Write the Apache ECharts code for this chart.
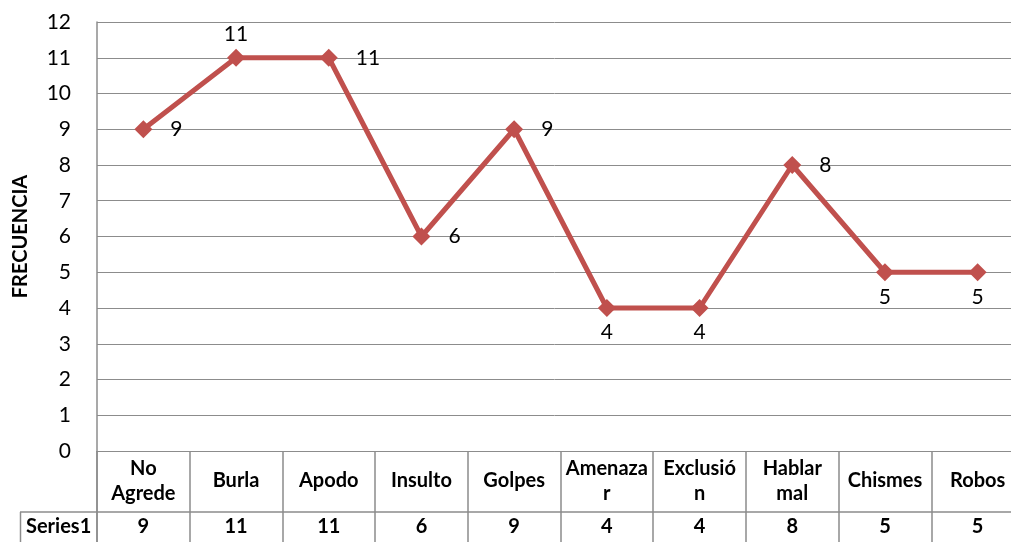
<!DOCTYPE html>
<html><head><meta charset="utf-8">
<script src="https://cdn.jsdelivr.net/npm/echarts@6/dist/echarts.min.js"></script>
<style>html,body{margin:0;padding:0;background:#fff}#c{width:1011px;height:542px}</style>
</head><body><div id="c"></div>
<script>
var categories = ['No Agrede','Burla','Apodo','Insulto','Golpes','Amenazar','Exclusión','Hablar mal','Chismes','Robos'];
var tickLabels = ['No\nAgrede','Burla','Apodo','Insulto','Golpes','Amenaza\nr','Exclusió\nn','Hablar\nmal','Chismes','Robos'];
var values = [9,11,11,6,9,4,4,8,5,5];
var labelPositions = ['right','top','right','right','right','bottom','bottom','right','bottom','bottom'];
var seriesName = 'Series1';
var yTicks = [0,1,2,3,4,5,6,7,8,9,10,11,12];

var FONT = 'Lato';
var GRAY = '#8c8c8c';
var labelDistance = {right: 18, top: 4, bottom: 5};
var chart = echarts.init(document.getElementById('c'));
chart.setOption({
  animation: false,
  grid: {left: 97, width: 927, top: 22, bottom: 91, containLabel: false, outerBoundsMode: 'none'},
  xAxis: [{
    type: 'category', data: categories, boundaryGap: true,
    axisLine: {show: true, lineStyle: {color: GRAY, width: 1}},
    axisTick: {show: true, length: 61, lineStyle: {color: GRAY, width: 1.5}},
    axisLabel: {
      interval: 0, margin: 30, verticalAlign: 'middle', align: 'center', hideOverlap: false,
      fontFamily: FONT, fontWeight: 'bold', fontSize: 20, lineHeight: 25, color: '#000',
      formatter: function(v, i){ return tickLabels[i]; }
    },
    splitLine: {show: false}
  }, {
    type: 'category', data: categories, position: 'bottom', offset: 61, boundaryGap: true,
    axisLine: {show: true, lineStyle: {color: GRAY, width: 1.5}},
    axisTick: {show: true, length: 31, lineStyle: {color: GRAY, width: 1.5}},
    axisLabel: {
      interval: 0, margin: 15, verticalAlign: 'middle', align: 'center',
      fontFamily: FONT, fontWeight: 'bold', fontSize: 20, color: '#000',
      formatter: function(v, i){ return String(values[i]); }
    }
  }],
  yAxis: {
    type: 'value', min: yTicks[0], max: yTicks[yTicks.length-1], interval: 1,
    name: 'FRECUENCIA', nameLocation: 'middle', nameGap: 66, nameRotate: 90,
    nameTextStyle: {fontFamily: FONT, fontWeight: 'bold', fontSize: 20, color: '#000'},
    axisLine: {show: true, lineStyle: {color: GRAY, width: 1.5}},
    axisTick: {show: false},
    axisLabel: {fontFamily: FONT, fontSize: 21, color: '#000', margin: 12, align: 'right', padding: [0, 14, 0, 0]},
    splitLine: {show: true, lineStyle: {color: GRAY, width: 1}}
  },
  graphic: [
    {type: 'line', shape: {x1: 20, y1: 512, x2: 97, y2: 512}, style: {stroke: GRAY, lineWidth: 1.5}},
    {type: 'line', shape: {x1: 20.5, y1: 512, x2: 20.5, y2: 542}, style: {stroke: GRAY, lineWidth: 1.5}},
    {type: 'line', shape: {x1: 97, y1: 451, x2: 97, y2: 542}, style: {stroke: GRAY, lineWidth: 1.5}},
    {type: 'text', left: 26, top: 517, style: {text: seriesName, fontFamily: FONT, fontWeight: 'bold', fontSize: 20, fill: '#000'}}
  ],
  series: [{
    name: seriesName, type: 'line', data: values.map(function(v, i){
      return {value: v, label: {position: labelPositions[i], distance: labelDistance[labelPositions[i]]}};
    }),
    symbol: 'diamond', symbolSize: 18,
    lineStyle: {color: '#C0504D', width: 5},
    itemStyle: {color: '#C0504D'},
    label: {show: true, fontFamily: FONT, fontSize: 21, color: '#000'}
  }]
});
</script></body></html>
